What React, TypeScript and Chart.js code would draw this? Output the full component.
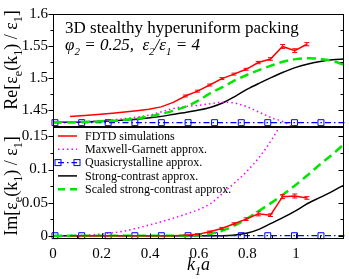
import React, { useEffect, useRef } from 'react';
import { Chart, registerables } from 'chart.js';

Chart.register(...registerables);

// ---------- data ----------
const fdtdK = [0.07, 0.145, 0.195, 0.245, 0.295, 0.345, 0.395, 0.445, 0.495, 0.545, 0.595, 0.645, 0.695, 0.745, 0.795, 0.845, 0.895, 0.945, 0.995, 1.045];
const fdtdRe = [1.4404, 1.4425, 1.444, 1.4457, 1.4474, 1.4495, 1.4518, 1.4555, 1.4625, 1.4725, 1.48, 1.4895, 1.4995, 1.5065, 1.514, 1.5245, 1.53, 1.5495, 1.543, 1.553];
const fdtdReErr = [0, 0, 0, 0, 0, 0, 0, 0, 0, 0.0015, 0.0015, 0.0015, 0.0015, 0.0015, 0.0015, 0.0018, 0.002, 0.003, 0.003, 0.0025];
const fdtdIm = [0, 0, 0, 0, 0, 0, 0, 0, 0, 0.0005, 0.002, 0.006, 0.011, 0.018, 0.025, 0.033, 0.031, 0.059, 0.06, 0.057];
const fdtdImErr = [0, 0, 0, 0, 0, 0, 0, 0, 0, 0.0005, 0.001, 0.001, 0.0015, 0.0015, 0.002, 0.003, 0.002, 0.003, 0.003, 0.002];

const thK = [0, 0.1, 0.2, 0.3, 0.4, 0.5, 0.55, 0.6, 0.65, 0.7, 0.75, 0.8, 0.85, 0.9, 0.95, 1.0, 1.05, 1.1, 1.15, 1.2];
const mgRe = [1.4314, 1.432, 1.434, 1.4375, 1.443, 1.4535, 1.4562, 1.458, 1.4605, 1.4628, 1.4612, 1.4555, 1.447, 1.4385, 1.432, 1.42, 1.4, 1.37, 1.33, 1.28];
const mgIm = [0, 0.0003, 0.0025, 0.0075, 0.0165, 0.027, 0.033, 0.0395, 0.049, 0.0645, 0.0805, 0.098, 0.119, 0.145, 0.177, 0.22, 0.27, 0.33, 0.4, 0.48];
const scRe = [1.4314, 1.4318, 1.433, 1.435, 1.4385, 1.444, 1.447, 1.4505, 1.455, 1.462, 1.472, 1.483, 1.4925, 1.5014, 1.5097, 1.517, 1.5222, 1.5262, 1.5287, 1.53];
const scIm = [0, 0, 0, 0, 0, 0, 0, 0, 0, 0, 0.001, 0.004, 0.01, 0.019, 0.028, 0.038, 0.049, 0.058, 0.067, 0.077];
const sscRe = [1.4314, 1.4318, 1.433, 1.4355, 1.441, 1.45, 1.4565, 1.4655, 1.4775, 1.4866, 1.497, 1.5055, 1.513, 1.52, 1.526, 1.5298, 1.5313, 1.53, 1.5272, 1.5205];
const sscIm = [0, 0, 0, 0, 0, 0, 0, 0.0008, 0.003, 0.008, 0.016, 0.026, 0.038, 0.05, 0.063, 0.077, 0.092, 0.108, 0.123, 0.139];

const quasiK = [0.008, 0.118, 0.227, 0.337, 0.446, 0.556, 0.665, 0.775, 0.884, 0.994, 1.103, 1.2];
const quasiRe = [1.431, 1.431, 1.431, 1.431, 1.431, 1.431, 1.431, 1.431, 1.431, 1.431, 1.431, 1.431];
const quasiIm = [0, 0, 0, 0, 0, 0, 0, 0, 0, 0, 0, 0];
const quasiMarker = [1, 1, 1, 1, 1, 1, 1, 1, 1, 1, 1, 0];

const xTicks = [0, 0.2, 0.4, 0.6, 0.8, 1];
const xMinor = [0.1, 0.3, 0.5, 0.7, 0.9, 1.1];
const reTicks = [1.45, 1.5, 1.55, 1.6];
const reMinor = [1.475, 1.525, 1.575];
const imTicks = [0, 0.05, 0.1, 0.15];
const imMinor = [0.025, 0.075, 0.125];

const legendLabels = ['FDTD simulations', 'Maxwell-Garnett approx.', 'Quasicrystalline approx.', 'Strong-contrast approx.', 'Scaled strong-contrast approx.'];

const RED = '#ff0000';
const MAG = '#ff00ff';
const BLUE = '#0000ff';
const BLACK = '#000000';
const GREEN = '#00e600';
const FONT = 'Liberation Serif';

type Seg = { t: string; sub?: boolean };

function segFont(size: number, sub: boolean | undefined, italic: boolean) {
  return `${italic ? 'italic ' : ''}${sub ? Math.round(size * 0.65) : size}px "${FONT}"`;
}

function drawRich(ctx: CanvasRenderingContext2D, segs: Seg[], x: number, y: number, size: number, align: 'left' | 'center', italic = false) {
  ctx.textAlign = 'left';
  ctx.textBaseline = 'alphabetic';
  let total = 0;
  for (const s of segs) {
    ctx.font = segFont(size, s.sub, italic);
    total += ctx.measureText(s.t).width;
  }
  let cx = align === 'center' ? x - total / 2 : x;
  for (const s of segs) {
    ctx.font = segFont(size, s.sub, italic);
    ctx.fillText(s.t, cx, s.sub ? y + size * 0.28 : y);
    cx += ctx.measureText(s.t).width;
  }
}

const pts = (xs: number[], ys: number[]) => xs.map((k, i) => ({ x: k, y: ys[i] }));

const decorPlugin = {
  id: 'decor',
  afterDatasetsDraw(chart: any) {
    const ctx: CanvasRenderingContext2D = chart.ctx;
    const xs = chart.scales.x;
    const yRe = chart.scales.yRe;
    const yIm = chart.scales.yIm;
    ctx.save();

    // error bars
    ctx.strokeStyle = RED;
    ctx.lineWidth = 1;
    const bars = (ys: any, vals: number[], errs: number[]) => {
      fdtdK.forEach((k, i) => {
        if (!errs[i]) return;
        const px = xs.getPixelForValue(k);
        const y1 = ys.getPixelForValue(vals[i] + errs[i]);
        const y2 = ys.getPixelForValue(vals[i] - errs[i]);
        ctx.beginPath();
        ctx.moveTo(px, y1); ctx.lineTo(px, y2);
        ctx.moveTo(px - 2.5, y1); ctx.lineTo(px + 2.5, y1);
        ctx.moveTo(px - 2.5, y2); ctx.lineTo(px + 2.5, y2);
        ctx.stroke();
      });
    };
    bars(yRe, fdtdRe, fdtdReErr);
    bars(yIm, fdtdIm, fdtdImErr);

    // frames
    ctx.strokeStyle = '#000';
    ctx.lineWidth = 1;
    const L = Math.round(xs.left) + 0.5;
    const R = Math.round(xs.right) - 0.5;
    for (const s of [yRe, yIm]) {
      const T = Math.round(s.top) + 0.5;
      const B = Math.round(s.bottom) - 0.5;
      ctx.strokeRect(L, T, R - L, B - T);
    }
    // y ticks
    const yt = (s: any, vals: number[], len: number) => {
      for (const v of vals) {
        const py = Math.round(s.getPixelForValue(v)) + 0.5;
        ctx.beginPath();
        ctx.moveTo(L - len, py); ctx.lineTo(L, py);
        ctx.moveTo(R, py); ctx.lineTo(R - len, py);
        ctx.stroke();
      }
    };
    yt(yRe, reTicks, 5); yt(yRe, reMinor, 3);
    yt(yIm, imTicks, 5); yt(yIm, imMinor, 3);
    // x ticks (bottom, inward)
    const B = Math.round(yIm.bottom) - 0.5;
    const xt = (vals: number[], len: number) => {
      for (const v of vals) {
        const px = Math.round(xs.getPixelForValue(v)) + 0.5;
        ctx.beginPath();
        ctx.moveTo(px, B); ctx.lineTo(px, B - len);
        ctx.stroke();
      }
    };
    xt(xTicks, 5); xt(xMinor, 3);

    ctx.fillStyle = '#000';
    // annotation
    ctx.font = `17px "${FONT}"`;
    ctx.textAlign = 'left';
    ctx.textBaseline = 'alphabetic';
    ctx.fillText('3D stealthy hyperuniform packing', xs.left + 12, yRe.top + 19);
    drawRich(ctx, [
      { t: 'φ' }, { t: '2', sub: true }, { t: ' = 0.25,  ε' }, { t: '2', sub: true },
      { t: '/ε' }, { t: '1', sub: true }, { t: ' = 4' },
    ], xs.left + 12, yRe.top + 36, 17, 'left', true);

    // legend
    const lx0 = xs.left + 5;
    const lx1 = xs.left + 24;
    const tx = xs.left + 32;
    const styles = [
      { c: RED, d: [] as number[], w: 1.5 },
      { c: MAG, d: [1.5, 3], w: 1.5 },
      { c: BLUE, d: [6, 3, 1.5, 3], w: 1.2 },
      { c: BLACK, d: [] as number[], w: 1.5 },
      { c: GREEN, d: [7, 5], w: 2.5 },
    ];
    legendLabels.forEach((lab, i) => {
      const ry = yIm.top + 9.5 + i * 13.3;
      const st = styles[i];
      ctx.strokeStyle = st.c;
      ctx.lineWidth = st.w;
      ctx.setLineDash(st.d);
      ctx.beginPath();
      ctx.moveTo(lx0, ry); ctx.lineTo(lx1, ry);
      ctx.stroke();
      ctx.setLineDash([]);
      if (i === 2) {
        ctx.lineWidth = 1;
        ctx.strokeRect(lx0 - 3, ry - 3, 6, 6);
        ctx.strokeRect(lx1 - 3, ry - 3, 6, 6);
      }
      ctx.fillStyle = '#000';
      ctx.font = `12px "${FONT}"`;
      ctx.textBaseline = 'middle';
      ctx.fillText(lab, tx, ry + 0.5);
    });

    // axis titles
    ctx.fillStyle = '#000';
    const yTitle = (prefix: string, cy: number) => {
      ctx.save();
      ctx.translate(17, cy);
      ctx.rotate(-Math.PI / 2);
      drawRich(ctx, [
        { t: prefix + '[ε' }, { t: 'e', sub: true }, { t: '(k' }, { t: '1', sub: true },
        { t: ') / ε' }, { t: '1', sub: true }, { t: ']' },
      ], 0, 0, 18, 'center');
      ctx.restore();
    };
    yTitle('Re', 60);
    yTitle('Im', 186);
    drawRich(ctx, [{ t: 'k' }, { t: '1', sub: true }, { t: 'a' }], (xs.left + xs.right) / 2, 270, 18, 'center', true);

    ctx.restore();
  },
};

export default function App() {
  const ref = useRef<HTMLCanvasElement | null>(null);
  useEffect(() => {
    document.body.style.margin = '0';
    const canvas = ref.current;
    if (!canvas) return;
    const tickFont = { family: FONT, size: 15 };
    const fmt = (v: any) => String(Number(v));
    const chart = new Chart(canvas, {
      type: 'line',
      data: {
        datasets: [
          { label: 'FDTD Re', data: pts(fdtdK, fdtdRe), xAxisID: 'x', yAxisID: 'yRe', borderColor: RED, borderWidth: 1.5, pointRadius: 0, clip: 0 } as any,
          { label: 'FDTD Im', data: pts(fdtdK, fdtdIm), xAxisID: 'x', yAxisID: 'yIm', borderColor: RED, borderWidth: 1.5, pointRadius: 0, clip: 0 },
          { label: 'SSC Re', data: pts(thK, sscRe), xAxisID: 'x', yAxisID: 'yRe', borderColor: GREEN, borderWidth: 2.5, borderDash: [9, 5], pointRadius: 0, cubicInterpolationMode: 'monotone', clip: 0 },
          { label: 'SSC Im', data: pts(thK, sscIm), xAxisID: 'x', yAxisID: 'yIm', borderColor: GREEN, borderWidth: 2.5, borderDash: [9, 5], pointRadius: 0, cubicInterpolationMode: 'monotone', clip: 0 },
          { label: 'MG Re', data: pts(thK, mgRe), xAxisID: 'x', yAxisID: 'yRe', borderColor: MAG, borderWidth: 1.5, borderDash: [1.5, 3], pointRadius: 0, cubicInterpolationMode: 'monotone', clip: 0 },
          { label: 'MG Im', data: pts(thK, mgIm), xAxisID: 'x', yAxisID: 'yIm', borderColor: MAG, borderWidth: 1.5, borderDash: [1.5, 3], pointRadius: 0, cubicInterpolationMode: 'monotone', clip: 0 },
          { label: 'QC Re', data: pts(quasiK, quasiRe), xAxisID: 'x', yAxisID: 'yRe', borderColor: BLUE, borderWidth: 1.2, borderDash: [6, 3, 1.5, 3], pointStyle: 'rect', pointRadius: quasiMarker.map(m => m * 4.2), pointBorderWidth: 1, pointBorderColor: BLUE, pointBackgroundColor: 'rgba(0,0,0,0)', clip: 4 },
          { label: 'QC Im', data: pts(quasiK, quasiIm), xAxisID: 'x', yAxisID: 'yIm', borderColor: BLUE, borderWidth: 1.2, borderDash: [6, 3, 1.5, 3], pointStyle: 'rect', pointRadius: quasiMarker.map(m => m * 4.2), pointBorderWidth: 1, pointBorderColor: BLUE, pointBackgroundColor: 'rgba(0,0,0,0)', clip: 4 },
          { label: 'SC Re', data: pts(thK, scRe), xAxisID: 'x', yAxisID: 'yRe', borderColor: BLACK, borderWidth: 1.5, pointRadius: 0, cubicInterpolationMode: 'monotone', clip: 0 },
          { label: 'SC Im', data: pts(thK, scIm), xAxisID: 'x', yAxisID: 'yIm', borderColor: BLACK, borderWidth: 1.5, pointRadius: 0, cubicInterpolationMode: 'monotone', clip: 0 },
        ],
      },
      options: {
        animation: false,
        responsive: false,
        devicePixelRatio: 1,
        layout: { padding: { top: 6, right: 1, left: 0, bottom: 0 } },
        plugins: { legend: { display: false }, tooltip: { enabled: false } },
        scales: {
          x: {
            type: 'linear', min: 0, max: 1.197, position: 'bottom',
            grid: { display: false, drawTicks: false }, border: { display: false },
            afterBuildTicks: (s: any) => { s.ticks = xTicks.map(v => ({ value: v })); },
            afterFit: (s: any) => { s.height = 40; },
            ticks: { font: tickFont, color: '#000', padding: 6, maxRotation: 0, autoSkip: false, callback: fmt },
          },
          yIm: {
            type: 'linear', position: 'left', stack: 'panels', stackWeight: 1, min: -0.005, max: 0.165,
            grid: { display: false, drawTicks: false }, border: { display: false },
            afterBuildTicks: (s: any) => { s.ticks = imTicks.map(v => ({ value: v })); },
            afterFit: (s: any) => { s.width = 53; },
            ticks: { font: tickFont, color: '#000', padding: 5, autoSkip: false, callback: fmt },
          },
          yRe: {
            type: 'linear', position: 'left', stack: 'panels', stackWeight: 1, min: 1.425, max: 1.6,
            grid: { display: false, drawTicks: false }, border: { display: false },
            afterBuildTicks: (s: any) => { s.ticks = reTicks.map(v => ({ value: v })); },
            afterFit: (s: any) => { s.width = 53; },
            ticks: { font: tickFont, color: '#000', padding: 5, autoSkip: false, callback: fmt },
          },
        },
      } as any,
      plugins: [decorPlugin],
    });
    return () => chart.destroy();
  }, []);
  return (
    <div style={{ width: 349, height: 279 }}>
      <canvas ref={ref} width={349} height={279} style={{ display: 'block' }} />
    </div>
  );
}
